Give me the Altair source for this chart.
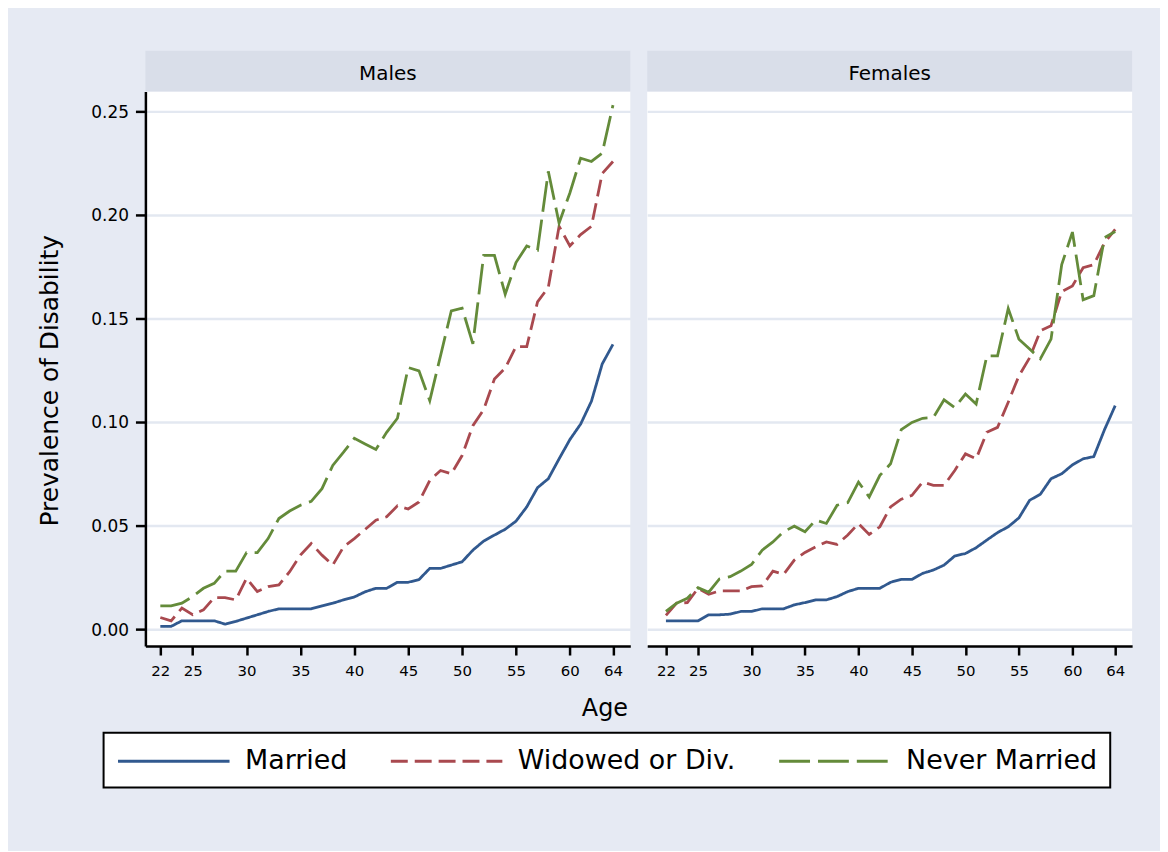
import altair as alt
import pandas as pd

FONT = "DejaVu Sans"
BG = "#e6eaf3"
HEADER = "#d9dee9"
GRID = "#e3e8f1"

ages = list(range(22, 65))
statuses = ["Married", "Widowed or Div.", "Never Married"]
colors = ["#31598f", "#a9494f", "#648b3a"]
dashes = [[1, 0], [17, 7], [31, 8]]
y_ticks = [0.0, 0.05, 0.10, 0.15, 0.20, 0.25]
x_ticks = [22, 25, 30, 35, 40, 45, 50, 55, 60, 64]

males_married = [0.0013, 0.0013, 0.0040, 0.0040, 0.0040, 0.0040, 0.0024, 0.0037, 0.0053, 0.0069,
                 0.0085, 0.0098, 0.0098, 0.0098, 0.0098, 0.0112, 0.0125, 0.0141, 0.0155, 0.0180,
                 0.0197, 0.0197, 0.0226, 0.0226, 0.0239, 0.0293, 0.0293, 0.0309, 0.0325, 0.0381,
                 0.0425, 0.0454, 0.0482, 0.0521, 0.0590, 0.0683, 0.0726, 0.0822, 0.0915, 0.0990,
                 0.1100, 0.1280, 0.1375]
males_widowed = [0.0056, 0.0040, 0.0101, 0.0069, 0.0093, 0.0152, 0.0152, 0.0141, 0.0245, 0.0181,
                 0.0205, 0.0213, 0.0277, 0.0357, 0.0413, 0.0357, 0.0309, 0.0397, 0.0437, 0.0481,
                 0.0526, 0.0542, 0.0595, 0.0580, 0.0614, 0.0718, 0.0766, 0.0750, 0.0838, 0.0982,
                 0.1060, 0.1207, 0.1260, 0.1364, 0.1364, 0.1580, 0.1650, 0.1945, 0.1850, 0.1905,
                 0.1945, 0.2200, 0.2258]
males_never = [0.0112, 0.0112, 0.0125, 0.0157, 0.0197, 0.0221, 0.0280, 0.0280, 0.0369, 0.0369,
               0.0437, 0.0534, 0.0570, 0.0598, 0.0617, 0.0678, 0.0790, 0.0854, 0.0921, 0.0894,
               0.0867, 0.0950, 0.1018, 0.1263, 0.1247, 0.1103, 0.1320, 0.1537, 0.1550, 0.1377,
               0.1805, 0.1805, 0.1617, 0.1770, 0.1850, 0.1830, 0.2210, 0.1960, 0.2106, 0.2274,
               0.2258, 0.2298, 0.2530]
females_married = [0.0040, 0.0040, 0.0040, 0.0040, 0.0069, 0.0069, 0.0072, 0.0085, 0.0085, 0.0098,
                   0.0098, 0.0098, 0.0117, 0.0128, 0.0141, 0.0141, 0.0157, 0.0181, 0.0197, 0.0197,
                   0.0197, 0.0226, 0.0240, 0.0240, 0.0269, 0.0285, 0.0309, 0.0353, 0.0365, 0.0393,
                   0.0430, 0.0466, 0.0494, 0.0537, 0.0622, 0.0651, 0.0726, 0.0750, 0.0793, 0.0822,
                   0.0833, 0.0963, 0.1079]
females_widowed = [0.0066, 0.0125, 0.0128, 0.0197, 0.0168, 0.0184, 0.0184, 0.0184, 0.0205, 0.0208,
                   0.0280, 0.0264, 0.0333, 0.0370, 0.0397, 0.0421, 0.0409, 0.0454, 0.0510, 0.0457,
                   0.0494, 0.0590, 0.0627, 0.0646, 0.0710, 0.0694, 0.0694, 0.0766, 0.0846, 0.0822,
                   0.0950, 0.0974, 0.1095, 0.1223, 0.1310, 0.1440, 0.1465, 0.1630, 0.1657, 0.1745,
                   0.1760, 0.1865, 0.1930]
females_never = [0.0085, 0.0125, 0.0149, 0.0200, 0.0178, 0.0242, 0.0253, 0.0280, 0.0312, 0.0381,
                 0.0421, 0.0470, 0.0497, 0.0470, 0.0526, 0.0510, 0.0598, 0.0611, 0.0710, 0.0638,
                 0.0742, 0.0798, 0.0963, 0.0998, 0.1018, 0.1022, 0.1107, 0.1070, 0.1135, 0.1087,
                 0.1319, 0.1319, 0.1548, 0.1400, 0.1352, 0.1305, 0.1400, 0.1760, 0.1917, 0.1590,
                 0.1610, 0.1890, 0.1920]

series = {
    "Males": [males_married, males_widowed, males_never],
    "Females": [females_married, females_widowed, females_never],
}
rows = []
for sex, lists in series.items():
    for status, vals in zip(statuses, lists):
        for a, v in zip(ages, vals):
            rows.append({"Sex": sex, "Status": status, "Age": a, "Prevalence": v})
df = pd.DataFrame(rows)

W, H = 487, 557
Y_DOMAIN = [-0.0082, 0.2596]
X_DOMAINS = {"Males": [20.615, 65.607], "Females": [20.251, 65.581]}

LEGEND = alt.Legend(
    title=None, orient="none", legendX=-42, legendY=644, direction="horizontal",
    symbolType="M-1,0H7", symbolSize=784, symbolStrokeWidth=3,
    labelFontSize=27, labelFont=FONT, labelColor="black", labelLimit=400,
    labelOffset=98, columnPadding=37, padding=13,
    strokeColor="black", fillColor="white",
)


def panel(sex, first):
    d = df[df.Sex == sex]
    head = pd.DataFrame({"label": [sex]})
    rect = alt.Chart(head).mark_rect(color=HEADER).encode(
        x=alt.value(0), x2=alt.value(W), y=alt.value(-41), y2=alt.value(0))
    txt = alt.Chart(head).mark_text(fontSize=20, font=FONT, baseline="alphabetic",
                                    align="center", color="black").encode(
        x=alt.value(W / 2), y=alt.value(-12), text="label:N")
    common_x = dict(values=x_ticks, labelFontSize=15, labelFont=FONT, labelColor="black",
                    labelPadding=9, tickSize=9, tickWidth=2.5, tickColor="black",
                    domainColor="black", domainWidth=2.5, grid=False,
                    labelFlush=False, labelOverlap=False)
    if first:
        xaxis = alt.Axis(title="Age", titleX=461, titleY=70, titleBaseline="alphabetic",
                         titleAlign="center", titleFontSize=24, titleFont=FONT,
                         titleFontWeight="normal", titleColor="black", **common_x)
        yaxis = alt.Axis(values=y_ticks, format=".2f", title="Prevalence of Disability",
                         titleFontSize=25, titleFont=FONT, titleFontWeight="normal",
                         titleColor="black", titleX=-88, titleY=290, titleAlign="center",
                         titleBaseline="alphabetic",
                         labelFontSize=17, labelFont=FONT, labelColor="black",
                         labelPadding=7, labelBaseline="alphabetic", labelOffset=6,
                         labelFlush=False, labelOverlap=False,
                         tickSize=10, tickWidth=2.5, tickColor="black",
                         domainColor="black", domainWidth=2.5,
                         grid=True, gridColor=GRID, gridWidth=2.5)
    else:
        xaxis = alt.Axis(title=None, **common_x)
        yaxis = alt.Axis(values=y_ticks, title=None, labels=False, ticks=False, domain=False,
                         grid=True, gridColor=GRID, gridWidth=2.5)
    lines = alt.Chart(d).mark_line(strokeWidth=2.8, clip=True).encode(
        x=alt.X("Age:Q", scale=alt.Scale(domain=X_DOMAINS[sex], nice=False, zero=False), axis=xaxis),
        y=alt.Y("Prevalence:Q", scale=alt.Scale(domain=Y_DOMAIN, nice=False, zero=False), axis=yaxis),
        color=alt.Color("Status:N", scale=alt.Scale(domain=statuses, range=colors), legend=LEGEND),
        strokeDash=alt.StrokeDash("Status:N", scale=alt.Scale(domain=statuses, range=dashes), legend=LEGEND),
    )
    return alt.layer(rect, txt, lines).properties(width=W, height=H)


def build(with_stroke):
    ch = alt.hconcat(panel("Males", True), panel("Females", False), spacing=17).resolve_scale(
        x="independent", y="independent")
    ch = ch.properties(background=BG, padding={"left": 30, "top": 41, "right": 28, "bottom": 61})
    ch = ch.configure(font=FONT).configure_view(stroke=None, fill="white")
    if with_stroke:
        ch = ch.configure_legend(strokeWidth=2)
    return ch


try:
    chart = build(True)
    chart.to_dict()
except Exception:
    chart = build(False)

chart.save("out.html", embed_options={"renderer": "svg", "actions": False})
